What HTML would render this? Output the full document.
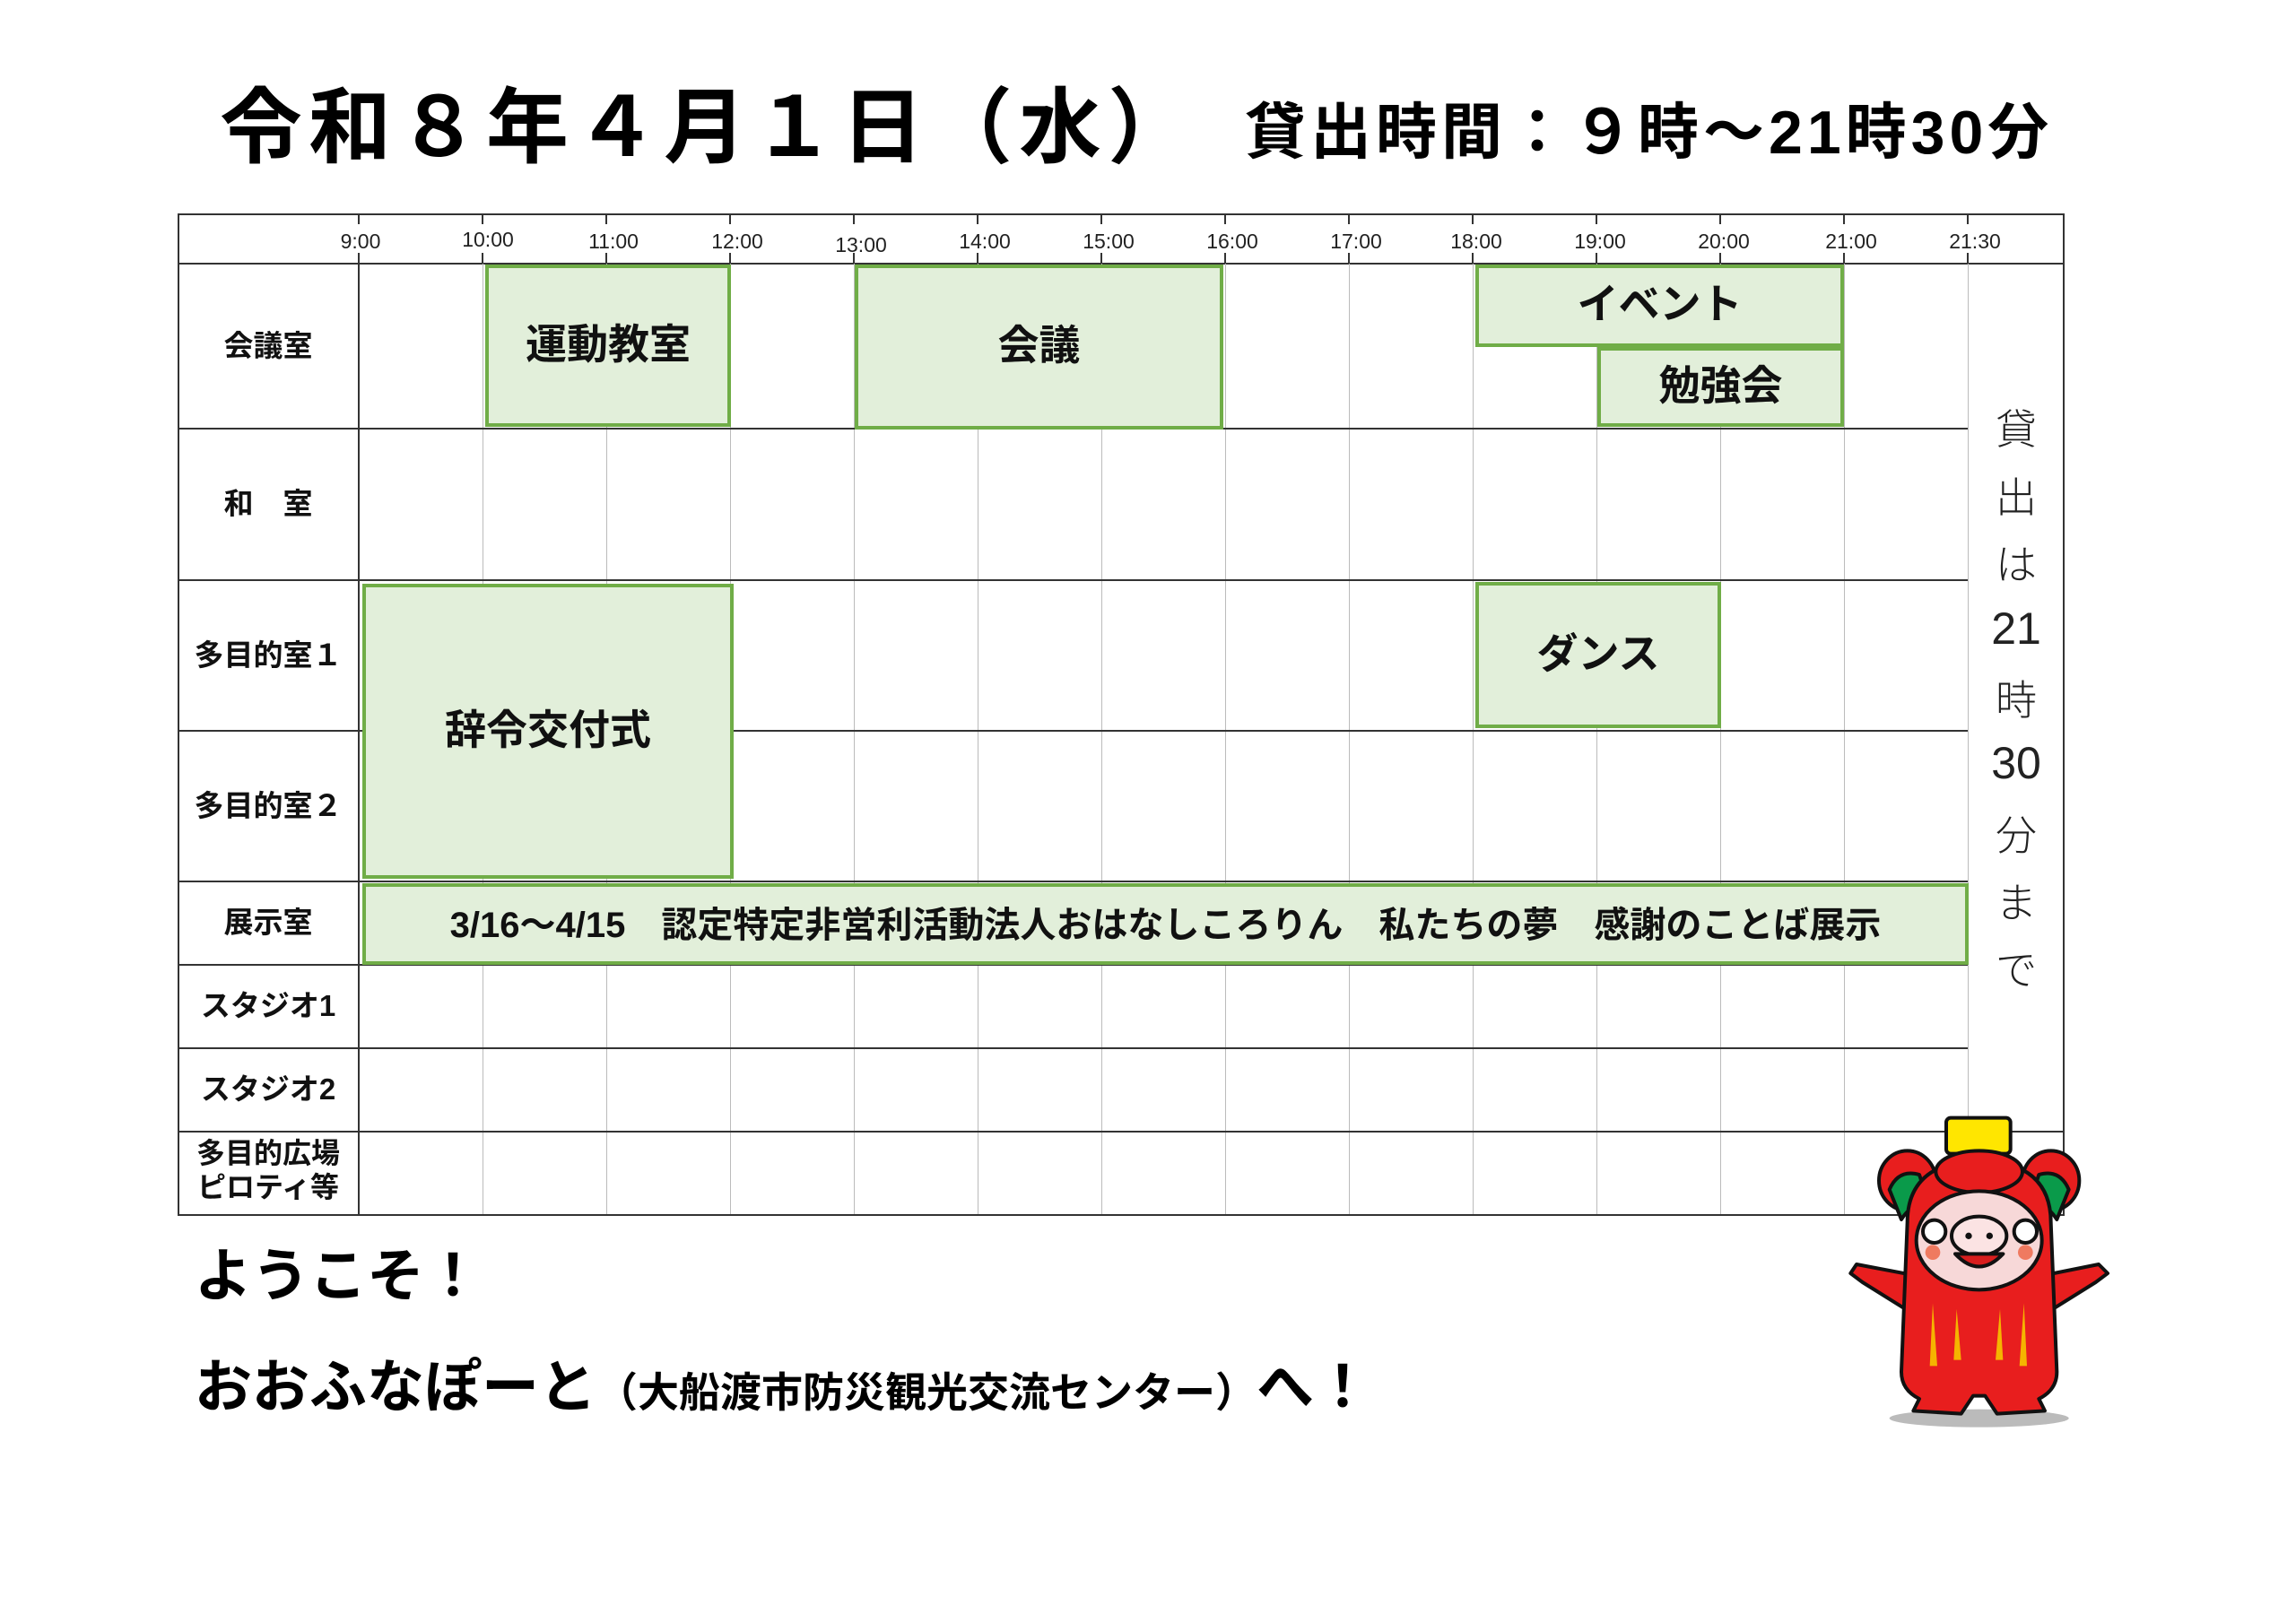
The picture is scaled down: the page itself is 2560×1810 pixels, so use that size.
<!DOCTYPE html>
<html><head><meta charset="utf-8"><style>
body{margin:0;width:2560px;height:1810px;background:#fff;position:relative;overflow:hidden;font-family:"Liberation Sans","Noto Sans CJK JP",sans-serif;}
.a{position:absolute;}
.h{position:absolute;height:2px;background:#333;}
.v{position:absolute;width:2px;background:#333;}
.g{position:absolute;width:1px;background:#bbb;}
.t{position:absolute;font-family:"Liberation Sans Narrow","Liberation Sans",sans-serif;font-size:23px;color:#222;width:100px;text-align:center;top:256px;}
.ev{position:absolute;background:#e2efda;border:4px solid #70ad47;box-sizing:border-box;display:flex;align-items:center;justify-content:center;font-weight:700;font-size:46px;color:#111;padding-bottom:10px;font-family:"Liberation Sans","Noto Sans CJK JP",sans-serif;}
.lb{position:absolute;left:198px;width:202px;display:flex;align-items:center;justify-content:center;font-weight:700;font-size:33px;color:#111;text-align:center;line-height:1.25;}
.vt{position:absolute;left:2196px;width:104px;text-align:center;font-size:46px;color:#222;font-weight:300;}
.vn{font-family:"Liberation Sans Narrow","Liberation Sans",sans-serif;font-size:50px;font-weight:400;}
</style></head><body>
<div class="a" style="left:245px;top:68px;font-size:92px;font-weight:700;white-space:nowrap;letter-spacing:7px">令和８年４月１日（水）</div>
<div class="a" style="left:1388px;top:92px;font-size:68px;font-weight:700;white-space:nowrap;letter-spacing:5px">貸出時間：９時～21時30分</div>

<div class="h" style="left:198px;top:238px;width:2104px"></div>
<div class="h" style="left:198px;top:293px;width:2104px"></div>
<div class="v" style="left:198px;top:238px;height:1118px"></div>
<div class="v" style="left:2300px;top:238px;height:1118px"></div>
<div class="v" style="left:399px;top:293px;height:1063px"></div>
<div class="g" style="left:538px;top:294px;height:1061px"></div>
<div class="g" style="left:676px;top:294px;height:1061px"></div>
<div class="g" style="left:814px;top:294px;height:1061px"></div>
<div class="g" style="left:952px;top:294px;height:1061px"></div>
<div class="g" style="left:1090px;top:294px;height:1061px"></div>
<div class="g" style="left:1228px;top:294px;height:1061px"></div>
<div class="g" style="left:1366px;top:294px;height:1061px"></div>
<div class="g" style="left:1504px;top:294px;height:1061px"></div>
<div class="g" style="left:1642px;top:294px;height:1061px"></div>
<div class="g" style="left:1780px;top:294px;height:1061px"></div>
<div class="g" style="left:1918px;top:294px;height:1061px"></div>
<div class="g" style="left:2056px;top:294px;height:1061px"></div>
<div class="g" style="left:2194px;top:294px;height:1061px"></div>
<div class="h" style="left:198px;top:477px;width:1996px"></div>
<div class="h" style="left:198px;top:646px;width:1996px"></div>
<div class="h" style="left:198px;top:814px;width:1996px"></div>
<div class="h" style="left:198px;top:982px;width:1996px"></div>
<div class="h" style="left:198px;top:1075px;width:1996px"></div>
<div class="h" style="left:198px;top:1168px;width:1996px"></div>
<div class="h" style="left:198px;top:1261px;width:2104px"></div>
<div class="h" style="left:198px;top:1354px;width:2104px"></div>
<svg class="a" style="left:0;top:0" width="2560" height="300">
<g stroke="#333" stroke-width="2">
<path d="M400 238V250M400 282V294M538 238V250M538 282V294M676 238V250M676 282V294M814 238V250M814 282V294M952 238V250M952 282V294M1090 238V250M1090 282V294M1228 238V250M1228 282V294M1366 238V250M1366 282V294M1504 238V250M1504 282V294M1642 238V250M1642 282V294M1780 238V250M1780 282V294M1918 238V250M1918 282V294M2056 238V250M2056 282V294M2194 238V250M2194 282V294"/>
</g></svg>
<div class="t" style="left:352px">9:00</div>
<div class="t" style="left:494px;top:254px">10:00</div>
<div class="t" style="left:634px">11:00</div>
<div class="t" style="left:772px">12:00</div>
<div class="t" style="left:910px;top:260px">13:00</div>
<div class="t" style="left:1048px">14:00</div>
<div class="t" style="left:1186px">15:00</div>
<div class="t" style="left:1324px">16:00</div>
<div class="t" style="left:1462px">17:00</div>
<div class="t" style="left:1596px">18:00</div>
<div class="t" style="left:1734px">19:00</div>
<div class="t" style="left:1872px">20:00</div>
<div class="t" style="left:2014px">21:00</div>
<div class="t" style="left:2152px">21:30</div>

<div class="lb" style="top:294px;height:183px">会議室</div>
<div class="lb" style="top:478px;height:168px">和　室</div>
<div class="lb" style="top:647px;height:167px">多目的室１</div>
<div class="lb" style="top:815px;height:167px">多目的室２</div>
<div class="lb" style="top:983px;height:92px">展示室</div>
<div class="lb" style="top:1076px;height:92px">スタジオ1</div>
<div class="lb" style="top:1169px;height:92px">スタジオ2</div>
<div class="lb" style="top:1262px;height:92px;font-size:32px;line-height:1.2;padding-bottom:6px;box-sizing:border-box">多目的広場<br>ピロティ等</div>

<div class="ev" style="left:541px;top:295px;width:274px;height:181px">運動教室</div>
<div class="ev" style="left:953px;top:295px;width:411px;height:184px">会議</div>
<div class="ev" style="left:1645px;top:295px;width:411px;height:92px">イベント</div>
<div class="ev" style="left:1781px;top:387px;width:275px;height:89px">勉強会</div>
<div class="ev" style="left:404px;top:651px;width:414px;height:329px">辞令交付式</div>
<div class="ev" style="left:1645px;top:649px;width:274px;height:163px">ダンス</div>
<div class="ev" style="left:404px;top:985px;width:1791px;height:91px;font-size:40px;white-space:pre;padding-bottom:6px">3/16～4/15　認定特定非営利活動法人おはなしころりん　私たちの夢　感謝のことば展示</div>

<div class="vt" style="top:443px">貸</div>
<div class="vt" style="top:519px">出</div>
<div class="vt" style="top:594px">は</div>
<div class="vt vn" style="top:672px">21</div>
<div class="vt" style="top:745px">時</div>
<div class="vt vn" style="top:822px">30</div>
<div class="vt" style="top:896px">分</div>
<div class="vt" style="top:971px">ま</div>
<div class="vt" style="top:1046px">で</div>

<div class="a" style="left:217px;top:1372px;font-size:64px;font-weight:700">ようこそ！</div>
<div class="a" style="left:217px;top:1496px;font-size:64px;font-weight:700;white-space:nowrap">おおふなぽーと<span style="font-size:46px">（大船渡市防災観光交流センター）</span>へ！</div>

<svg class="a" style="left:2040px;top:1230px" width="340" height="380" viewBox="0 0 1020 1140">
<ellipse cx="500" cy="1055" rx="300" ry="30" fill="#bbb"/>
<g stroke="#111" stroke-width="12" stroke-linejoin="round">
<rect x="390" y="50" width="215" height="120" rx="15" fill="#ffe600"/>
<ellipse cx="260" cy="260" rx="95" ry="100" fill="#e81e1e"/>
<ellipse cx="740" cy="260" rx="95" ry="100" fill="#e81e1e"/>
<path d="M200 290 Q230 220 300 240 L330 330 Q270 340 240 390 Z" fill="#0a9a4a"/>
<path d="M800 290 Q770 220 700 240 L670 330 Q730 340 760 390 Z" fill="#0a9a4a"/>
<path d="M300 580 L90 540 L70 570 L110 600 L270 700 Z" fill="#e81e1e"/>
<path d="M700 580 L900 540 L930 570 L890 600 L730 700 Z" fill="#e81e1e"/>
<path d="M260 400 Q260 200 500 190 Q740 200 740 400 L760 900 Q760 960 700 990 L720 1030 L560 1040 L520 980 L480 980 L440 1040 L280 1030 L300 990 Q240 960 240 900 Z" fill="#e81e1e"/>
<ellipse cx="500" cy="230" rx="145" ry="70" fill="#e81e1e"/>
<ellipse cx="500" cy="460" rx="210" ry="165" fill="#f7d8d8"/>
<ellipse cx="500" cy="445" rx="92" ry="65" fill="#fbe3e3"/>
<circle cx="350" cy="430" r="38" fill="#fff"/>
<circle cx="655" cy="430" r="38" fill="#fff"/>
<path d="M420 505 Q500 590 580 505 Z" fill="#d81e1e"/>
</g>
<circle cx="465" cy="445" r="11" fill="#111"/><circle cx="535" cy="445" r="11" fill="#111"/>
<circle cx="345" cy="500" r="25" fill="#ef7a60"/><circle cx="655" cy="500" r="25" fill="#ef7a60"/>
<g fill="#f5b400"><path d="M345 670 L360 880 L335 880 Z"/><path d="M425 690 L440 860 L415 860 Z"/><path d="M570 690 L580 860 L555 860 Z"/><path d="M650 670 L660 880 L635 880 Z"/></g>
</svg>
</body></html>
